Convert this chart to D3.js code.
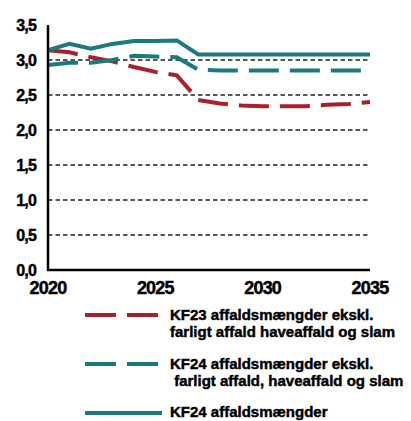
<!DOCTYPE html>
<html>
<head>
<meta charset="utf-8">
<script src="https://cdn.jsdelivr.net/npm/d3@7"></script>
<style>
  body { margin: 0; background: #fff; }
  text { font-family: "Liberation Sans", Arial, sans-serif; font-weight: bold; fill: #000; stroke: #000; stroke-width: 0.45px; }
</style>
</head>
<body>
<div id="chart"></div>
<script>
const years = d3.range(2020, 2036);
const kf23Excl = [3.14, 3.11, 3.04, 2.98, 2.90, 2.83, 2.78, 2.43, 2.38, 2.35, 2.34, 2.34, 2.34, 2.36, 2.37, 2.40];
const kf24Excl = [2.93, 2.96, 2.96, 3.00, 3.06, 3.05, 3.04, 2.86, 2.85, 2.85, 2.85, 2.85, 2.85, 2.85, 2.85, 2.85];
const kf24All = [3.14, 3.23, 3.16, 3.23, 3.27, 3.27, 3.28, 3.08, 3.08, 3.08, 3.08, 3.08, 3.08, 3.08, 3.08, 3.08];
const yTicks = [0, 0.5, 1, 1.5, 2, 2.5, 3, 3.5];
const xTicks = [2020, 2025, 2030, 2035];

const red = "#a8202a", teal = "#1a7a80";

const series = [
  {values: kf23Excl, color: red, dash: "30,11",
    label: ["KF23 affaldsmængder ekskl.", "farligt affald haveaffald og slam"]},
  {values: kf24Excl, color: teal, dash: "30,11",
    label: ["KF24 affaldsmængder ekskl.", " farligt affald, haveaffald og slam"]},
  {values: kf24All, color: teal, dash: null,
    label: ["KF24 affaldsmængder"]}
];

const svg = d3.select("#chart").append("svg")
  .attr("width", 411)
  .attr("height", 421);

const x = d3.scaleLinear().domain([2020, 2035]).range([48, 370]);
const y = d3.scaleLinear().domain([0, 3.5]).range([270, 25]);

// dashed gridlines
svg.append("g")
  .selectAll("line")
  .data(yTicks.filter(d => d > 0 && d < 3.5))
  .join("line")
    .attr("x1", x(2020))
    .attr("x2", x(2035) - 2)
    .attr("y1", d => y(d))
    .attr("y2", d => y(d))
    .attr("stroke", "#222")
    .attr("stroke-width", 1.4)
    .attr("stroke-dasharray", "4.5,3");

// y labels
svg.append("g")
  .selectAll("text")
  .data(yTicks)
  .join("text")
    .attr("x", 36)
    .attr("y", d => y(d))
    .attr("dy", "0.36em")
    .attr("text-anchor", "end")
    .attr("font-size", 16)
    .attr("letter-spacing", -0.8)
    .text(d => d3.format(".1f")(d).replace(".", ","));

// x labels
svg.append("g")
  .selectAll("text")
  .data(xTicks)
  .join("text")
    .attr("x", d => x(d))
    .attr("y", 294)
    .attr("text-anchor", "middle")
    .attr("font-size", 18)
    .attr("letter-spacing", -0.8)
    .text(d => d);

// lines
const line = d3.line()
  .x((d, i) => x(years[i]))
  .y(d => y(d));

svg.append("g")
  .selectAll("path")
  .data(series)
  .join("path")
    .attr("d", d => line(d.values))
    .attr("fill", "none")
    .attr("stroke", d => d.color)
    .attr("stroke-width", 4)
    .attr("stroke-dasharray", d => d.dash);

// axes
svg.append("line")
  .attr("x1", x(2020)).attr("x2", x(2020))
  .attr("y1", y(3.5)).attr("y2", y(0) + 1)
  .attr("stroke", "#000").attr("stroke-width", 2.5);
svg.append("line")
  .attr("x1", x(2020) - 1).attr("x2", x(2035))
  .attr("y1", y(0)).attr("y2", y(0))
  .attr("stroke", "#000").attr("stroke-width", 2.5);

// legend
const legendY = [315, 364, 413];
const textY = [[320, 337], [369, 386], [417]];
const lg = svg.append("g")
  .selectAll("g")
  .data(series)
  .join("g");

lg.append("line")
  .attr("x1", 85)
  .attr("x2", d => d.dash ? 158 : 162)
  .attr("y1", (d, i) => legendY[i])
  .attr("y2", (d, i) => legendY[i])
  .attr("stroke", d => d.color)
  .attr("stroke-width", 4)
  .attr("stroke-dasharray", d => d.dash ? "31,11" : null);

lg.each(function(d, i) {
  d3.select(this).selectAll("text")
    .data(d.label)
    .join("text")
      .attr("x", 170)
      .attr("y", (t, j) => textY[i][j])
      .attr("font-size", 15)
      .attr("letter-spacing", 0)
      .style("white-space", "pre")
      .text(t => t);
});
</script>
</body>
</html>
